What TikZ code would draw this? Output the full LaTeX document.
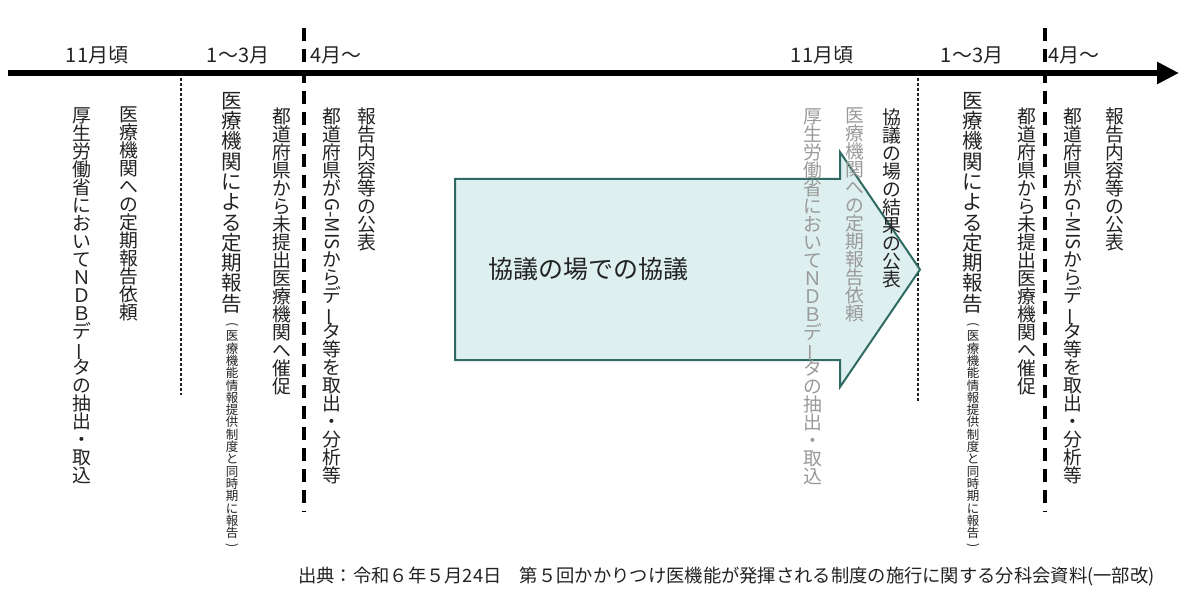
\documentclass[tikz,border=0pt]{standalone}
\usepackage{fontspec}
\setmainfont{Noto Sans CJK JP}
\usepackage{graphicx}
\usetikzlibrary{arrows.meta,positioning}

\definecolor{inkgray}{HTML}{222222}
\definecolor{fadegray}{HTML}{9A9A9A}
\definecolor{talkfill}{HTML}{DDEFEE}
\definecolor{talkline}{HTML}{2F6B62}

% vertical (tategaki) stacking of characters
\makeatletter
\newcommand{\tate}[1]{\vbox{\lineskiplimit=-8pt\lineskip=2pt%
  \@tfor\tatech:=#1\do{\hbox to 1em{\hss\tatech\hss}}}}
\makeatother
\newcommand{\tatebar}{\rotatebox[origin=c]{90}{ー}}
\newcommand{\tatelat}[1]{\rotatebox[origin=c]{-90}{#1}}

\begin{document}
\begin{tikzpicture}[x=1pt,y=-1pt,
  col/.style={anchor=north,inner sep=0pt,text=inkgray,font=\fontsize{18.8}{18}\selectfont},
  bigcol/.style={col,font=\fontsize{20.5}{20.3}\selectfont},
  smallcol/.style={col,font=\fontsize{12.5}{12.3}\selectfont},
  fadecol/.style={col,text=fadegray},
  month/.style={inner sep=0pt,text=inkgray,font=\fontsize{20}{20}\selectfont},
  dotline/.style={line width=1.5pt,dash pattern=on 3pt off 2pt,inkgray},
  dashline/.style={line width=4pt,dash pattern=on 13pt off 8pt,black}]
	\useasboundingbox (0,0) rectangle (1180,596);
	% time axis
	\coordinate (axisstart) at (8,73);
	\coordinate (axisend) at (1179,73);
	\draw[line width=6pt,-{Triangle[length=22pt,width=21pt]}] (axisstart) -- (axisend);
	\node[month] (novA) at (97,55) {11月頃};
	\node[month] (janA) at (238,55) {1〜3月};
	\node[month,anchor=west] (aprA) at (310,55) {4月〜};
	\node[month] (novB) at (822,55) {11月頃};
	\node[month] (janB) at (972,55) {1〜3月};
	\node[month,anchor=west] (aprB) at (1048,55) {4月〜};
	% period borders
	\draw[dotline] (181,78) -- (181,395);
	\draw[dotline] (918,78) -- (918,402);
	\draw[dashline] (304,28) -- (304,512);
	\draw[dashline] (1045,28) -- (1045,512);
	% discussion arrow
	\draw[talkline,line width=2pt,fill=talkfill] (455,179) -- (840,179) -- (840,152) -- (920,269.5)
	  -- (840,387) -- (840,360) -- (455,360) -- cycle;
	\node[anchor=west,inner sep=0pt,text=inkgray,font=\fontsize{25}{25}\selectfont] (talk) at (488,269) {協議の場での協議};
	% first year
	\node[col] (mhlwA) at (82,107) {\tate{厚生労働省においてＮＤＢデ{\tatebar}タの抽出・取込}};
	\node[col] (requestA) at (129,107) {\tate{医療機関への定期報告依頼}};
	\node[bigcol] (reportA) at (232,92) {\tate{医療機関による定期報告}};
	\node[smallcol,below=9pt of reportA] (noteA) {\tate{{\tatelat{(}}医療機能情報提供制度と同時期に報告{\tatelat{)}}}};
	\node[col] (urgeA) at (282,108) {\tate{都道府県から未提出医療機関へ催促}};
	\node[col] (gmisA) at (332,108) {\tate{都道府県が{\tatelat{G-MIS}}からデ{\tatebar}タ等を取出・分析等}};
	\node[col] (publishA) at (367,108) {\tate{報告内容等の公表}};
	% second year
	\node[fadecol] (mhlwB) at (813,108) {\tate{厚生労働省においてＮＤＢデ{\tatebar}タの抽出・取込}};
	\node[fadecol] (requestB) at (855,108) {\tate{医療機関への定期報告依頼}};
	\node[col] (resultB) at (892,108) {\tate{協議の場の結果の公表}};
	\node[bigcol] (reportB) at (973,92) {\tate{医療機関による定期報告}};
	\node[smallcol,below=9pt of reportB] (noteB) {\tate{{\tatelat{(}}医療機能情報提供制度と同時期に報告{\tatelat{)}}}};
	\node[col] (urgeB) at (1027,108) {\tate{都道府県から未提出医療機関へ催促}};
	\node[col] (gmisB) at (1073,108) {\tate{都道府県が{\tatelat{G-MIS}}からデ{\tatebar}タ等を取出・分析等}};
	\node[col] (publishB) at (1115,108) {\tate{報告内容等の公表}};
	% source
	\node[anchor=west,inner sep=0pt,text=inkgray,font=\fontsize{18.3}{18}\selectfont] (source) at (298,577)
	  {出典：令和６年５月24日　第５回かかりつけ医機能が発揮される制度の施行に関する分科会資料(一部改)};
\end{tikzpicture}
\end{document}
